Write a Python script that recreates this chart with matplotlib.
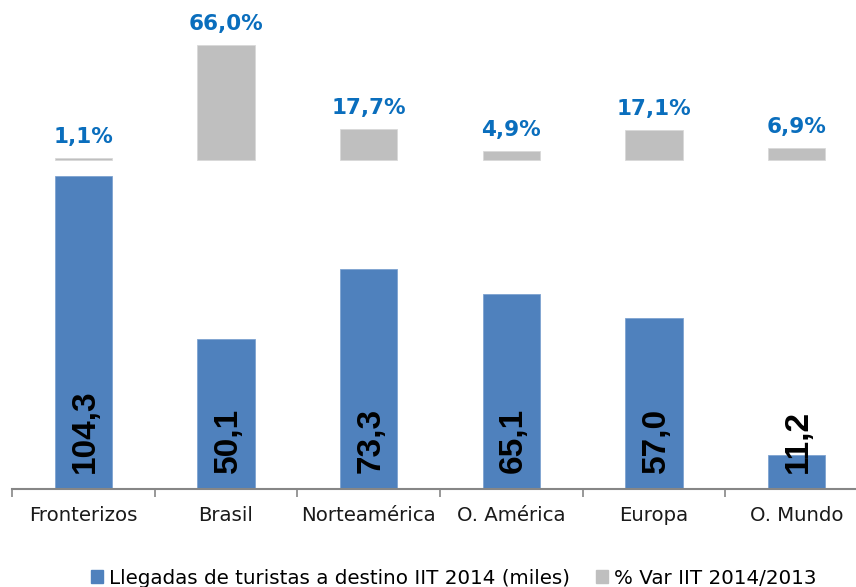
import matplotlib
matplotlib.use("Agg")
import matplotlib.pyplot as plt
from matplotlib.patches import Patch

categories = ["Fronterizos", "Brasil", "Norteamérica", "O. América", "Europa", "O. Mundo"]
llegadas = [104.3, 50.1, 73.3, 65.1, 57.0, 11.2]
var_pct = [1.1, 66.0, 17.7, 4.9, 17.1, 6.9]
series_names = ["Llegadas de turistas a destino IIT 2014 (miles)", "% Var IIT 2014/2013"]

BLUE = "#4F81BD"
GREY = "#BFBFBF"
TXT_BLUE = "#0A6EBD"
AXIS_GREY = "#868686"

W, H = 856, 587
fig = plt.figure(figsize=(W / 100, H / 100), dpi=100)

# axes pixel geometry
left_px, right_px = 12, 868
top_px, bottom_px = 10, 489
ax = fig.add_axes([left_px / W, 1 - bottom_px / H, (right_px - left_px) / W, (bottom_px - top_px) / H])
ax2 = ax.twinx()

x = list(range(len(categories)))
bw = 0.40

ax.bar(x, llegadas, width=bw, color=BLUE, edgecolor="#7EA3D1", linewidth=0.6, zorder=2)
ax.set_xlim(-0.5, len(categories) - 0.5)
ax.set_ylim(0, (bottom_px - top_px) / 3.0)

# secondary axis: zero at pixel y=160
sec_scale = 1.745
span = (bottom_px - top_px) / sec_scale
frac0 = (bottom_px - 160) / (bottom_px - top_px)
ax2.set_ylim(-frac0 * span, (1 - frac0) * span)
ax2.bar(x, var_pct, width=bw, color=GREY, edgecolor="#D9D9D9", linewidth=0.6, zorder=2)

for xi, v in zip(x, var_pct):
    ax2.annotate(f"{v:.1f}%".replace(".", ","), xy=(xi, v), xytext=(0, 11),
                 textcoords="offset pixels", ha="center", va="bottom",
                 fontsize=15.5, fontweight="bold", color=TXT_BLUE, family="DejaVu Sans")

for xi, v in zip(x, llegadas):
    ax.annotate(f"{v:.1f}".replace(".", ","), xy=(xi, 0), xytext=(2, 16),
                textcoords="offset pixels", ha="center", va="bottom", rotation=90,
                fontsize=24, fontweight="bold", color="black", family="Liberation Sans",
                zorder=5)

for a in (ax, ax2):
    for s in ("top", "right", "left"):
        a.spines[s].set_visible(False)
    a.set_yticks([])
ax2.spines["bottom"].set_visible(False)
ax.spines["bottom"].set_color(AXIS_GREY)
ax.spines["bottom"].set_linewidth(1.5)

ax.set_xticks(x)
ax.set_xticklabels(categories, fontsize=14.2, family="DejaVu Sans", color="#1a1a1a")
ax.tick_params(axis="x", which="major", length=0, pad=12)
ax.set_xticks([i - 0.5 for i in range(len(categories) + 1)], minor=True)
ax.tick_params(axis="x", which="minor", length=6, width=1.2, color=AXIS_GREY, direction="out")

handles = [Patch(facecolor=BLUE, edgecolor=BLUE), Patch(facecolor=GREY, edgecolor=GREY)]
fig.legend(handles, series_names, loc="center", bbox_to_anchor=(454 / W, 1 - 578 / H),
           ncol=2, frameon=False, handlelength=0.62, handleheight=0.62,
           handletextpad=0.3, columnspacing=1.3, prop={"family": "DejaVu Sans", "size": 14.3})

fig.savefig("out.png", dpi=100)
